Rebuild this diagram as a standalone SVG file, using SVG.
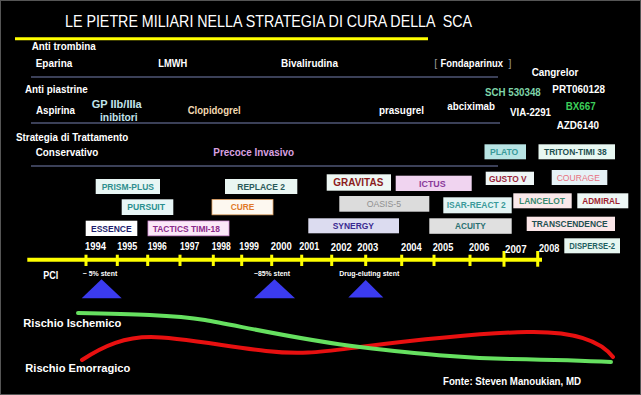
<svg xmlns="http://www.w3.org/2000/svg" width="641" height="395" viewBox="0 0 641 395">
<defs>
<style>
text{font-family:"Liberation Sans",Arial,sans-serif;font-weight:bold}
.t{fill:#fff;font-size:10.5px}
.b{font-size:9.5px}
.y{fill:#fff;font-size:11px}
.s{fill:#fff;font-size:6.5px}
.br{fill:#999;font-size:10.5px;font-weight:normal}
.sep{stroke:#3b4058;stroke-width:2}
.tick{stroke:#ffff00;stroke-width:3}
.tri{fill:#3b3bef}
</style>
</defs>
<rect x="0" y="0" width="641" height="395" fill="#000"/>
<rect x="0.5" y="0.5" width="640" height="394" fill="none" stroke="#555" stroke-width="1"/>

<g id="title">
<text x="65" y="27" fill="#fff" font-size="16.5" style="font-weight:normal" xml:space="preserve" textLength="407" lengthAdjust="spacingAndGlyphs">LE PIETRE MILIARI NELLA STRATEGIA DI CURA DELLA  SCA</text>
<line x1="15" y1="38.7" x2="428" y2="38.7" stroke="#ffff00" stroke-width="3"/>
</g>

<g id="separators">
<line class="sep" x1="31" y1="77" x2="498" y2="77"/>
<line class="sep" x1="31" y1="123" x2="500" y2="123"/>
<line class="sep" x1="31" y1="166" x2="498" y2="166"/>
</g>

<g id="antitrombina">
<text class="t" x="31.7" y="50" textLength="64" lengthAdjust="spacingAndGlyphs">Anti trombina</text>
<text class="t" x="35.7" y="67.3" textLength="36.6" lengthAdjust="spacingAndGlyphs">Eparina</text>
<text class="t" x="158.3" y="67.3" textLength="29" lengthAdjust="spacingAndGlyphs">LMWH</text>
<text class="t" x="281" y="67.3" textLength="57" lengthAdjust="spacingAndGlyphs">Bivalirudina</text>
<text class="br" x="434.3" y="67.3">[</text>
<text class="t" x="440.5" y="67.3" textLength="62.5" lengthAdjust="spacingAndGlyphs">Fondaparinux</text>
<text class="br" x="508.5" y="67.3">]</text>
</g>

<g id="antipiastrine">
<text class="t" x="25" y="93.3" textLength="62.7" lengthAdjust="spacingAndGlyphs">Anti piastrine</text>
<text class="t" x="36" y="114" textLength="39" lengthAdjust="spacingAndGlyphs">Aspirina</text>
<text class="t" x="91.7" y="108.3" style="fill:#c2e4ec" textLength="50" lengthAdjust="spacingAndGlyphs">GP IIb/IIIa</text>
<text class="t" x="100" y="121" style="fill:#c2e4ec" textLength="37.7" lengthAdjust="spacingAndGlyphs">inibitori</text>
<text class="t" x="187.7" y="114" style="fill:#f3d9b1" textLength="53" lengthAdjust="spacingAndGlyphs">Clopidogrel</text>
<text class="t" x="379" y="113.5" textLength="45" lengthAdjust="spacingAndGlyphs">prasugrel</text>
<text class="t" x="447.3" y="110" textLength="47.7" lengthAdjust="spacingAndGlyphs">abciximab</text>
<text class="t" x="485" y="96" style="fill:#7fd4a8" textLength="55.7" lengthAdjust="spacingAndGlyphs">SCH 530348</text>
<text class="t" x="531.7" y="76" textLength="46.6" lengthAdjust="spacingAndGlyphs">Cangrelor</text>
<text class="t" x="552.3" y="93.3" textLength="52.7" lengthAdjust="spacingAndGlyphs">PRT060128</text>
<text class="t" x="565.7" y="110" style="fill:#3ccf5a" textLength="30" lengthAdjust="spacingAndGlyphs">BX667</text>
<text class="t" x="510" y="116" textLength="41" lengthAdjust="spacingAndGlyphs">VIA-2291</text>
<text class="t" x="556.7" y="129" textLength="42.3" lengthAdjust="spacingAndGlyphs">AZD6140</text>
</g>

<g id="strategia">
<text class="t" x="16" y="141" textLength="112.3" lengthAdjust="spacingAndGlyphs">Strategia di Trattamento</text>
<text class="t" x="35.7" y="156" textLength="62.6" lengthAdjust="spacingAndGlyphs">Conservativo</text>
<text class="t" x="213.3" y="156" style="fill:#d9a0e0" textLength="80.7" lengthAdjust="spacingAndGlyphs">Precoce Invasivo</text>
</g>

<g id="trials">
<g id="plato"><rect x="484.5" y="144.3" width="41.5" height="15" fill="#b8e4e4"/><text class="b" x="490" y="155" fill="#3a9a9a" textLength="28.3" lengthAdjust="spacingAndGlyphs">PLATO</text></g>
<g id="triton"><rect x="538.5" y="144.3" width="76.5" height="15" fill="#e8f8f2"/><text class="b" x="544" y="155" fill="#1f5050" textLength="62.7" lengthAdjust="spacingAndGlyphs">TRITON-TIMI 38</text></g>
<g id="prism"><rect x="95.7" y="179" width="64.3" height="15" fill="#e8f6f4"/><text class="b" x="101.7" y="189.5" fill="#2f8f8f" textLength="52.3" lengthAdjust="spacingAndGlyphs">PRISM-PLUS</text></g>
<g id="replace"><rect x="225" y="179" width="72.3" height="15" fill="#eaf6f2"/><text class="b" x="237.3" y="189.5" fill="#2a5a5a" textLength="47.7" lengthAdjust="spacingAndGlyphs">REPLACE 2</text></g>
<g id="pursuit"><rect x="121.7" y="199.3" width="51.6" height="15.7" fill="#e8f6f6"/><text class="b" x="127.3" y="210" fill="#2a9090" textLength="37.7" lengthAdjust="spacingAndGlyphs">PURSUIT</text></g>
<g id="cure"><rect x="212" y="199.6" width="61" height="15.2" fill="#fdf8f0" stroke="#e8a868" stroke-width="0.8"/><text class="b" x="230.7" y="210" fill="#e07a2a" textLength="23.6" lengthAdjust="spacingAndGlyphs">CURE</text></g>
<g id="essence"><rect x="85.7" y="220.7" width="51.6" height="15.3" fill="#ffffff"/><text class="b" x="91" y="231.7" fill="#1e1e6e" textLength="40.7" lengthAdjust="spacingAndGlyphs">ESSENCE</text></g>
<g id="tactics"><rect x="148" y="221" width="81" height="14.8" fill="#fbe8f8" stroke="#d890d8" stroke-width="0.8"/><text class="b" x="152.7" y="231.7" fill="#8b2a8b" textLength="67.3" lengthAdjust="spacingAndGlyphs">TACTICS TIMI-18</text></g>
<g id="gravitas"><rect x="326.7" y="174.3" width="64.3" height="16.4" fill="#eef8f4"/><text x="333.3" y="186" font-size="11" fill="#8b1c1c" textLength="50" lengthAdjust="spacingAndGlyphs">GRAVITAS</text></g>
<g id="ictus"><rect x="395.7" y="175.7" width="76" height="15.3" fill="#f0d4f0"/><text class="b" x="419" y="186.7" fill="#8a3a9a" textLength="26.7" lengthAdjust="spacingAndGlyphs">ICTUS</text></g>
<g id="oasis"><rect x="339.3" y="196" width="90" height="15.7" fill="#dcdcdc"/><text class="b" x="366.7" y="207.3" fill="#909090" style="font-weight:normal" textLength="34.3" lengthAdjust="spacingAndGlyphs">OASIS-5</text></g>
<g id="isar"><rect x="443.3" y="197.3" width="68.4" height="16" fill="#e4f4f4"/><text class="b" x="446.7" y="207.7" fill="#3a9a9a" textLength="59" lengthAdjust="spacingAndGlyphs">ISAR-REACT 2</text></g>
<g id="synergy"><rect x="308.3" y="218.3" width="90.7" height="15" fill="#dcdcf0"/><text class="b" x="332.7" y="229" fill="#3a2a90" textLength="41.3" lengthAdjust="spacingAndGlyphs">SYNERGY</text></g>
<g id="acuity"><rect x="429.3" y="218.3" width="82.4" height="15.5" fill="#e0e0e0"/><text class="b" x="455" y="228.8" fill="#2a7070" textLength="30.7" lengthAdjust="spacingAndGlyphs">ACUITY</text></g>
<g id="gusto"><rect x="485.7" y="171.7" width="48.3" height="13.3" fill="#eef6f6"/><text class="b" x="489" y="181.7" fill="#9a1f3a" textLength="37.7" lengthAdjust="spacingAndGlyphs">GUSTO V</text></g>
<g id="courage"><rect x="551.7" y="170" width="55.6" height="15" fill="#e6f2f6"/><text class="b" x="556.7" y="180.5" fill="#e87080" style="font-weight:normal" textLength="43.3" lengthAdjust="spacingAndGlyphs">COURAGE</text></g>
<g id="lancelot"><rect x="513.3" y="193.3" width="58.4" height="15" fill="#fae8ea"/><text class="b" x="519" y="204" fill="#3a8a70" textLength="46" lengthAdjust="spacingAndGlyphs">LANCELOT</text></g>
<g id="admiral"><rect x="577.3" y="193.3" width="51" height="15" fill="#eef8f6"/><text class="b" x="582.3" y="204" fill="#a01f30" textLength="37.7" lengthAdjust="spacingAndGlyphs">ADMIRAL</text></g>
<g id="transcendence"><rect x="526.7" y="216.7" width="88.3" height="14.3" fill="#fbe6e8"/><text class="b" x="531.7" y="226.7" fill="#1f5050" textLength="76" lengthAdjust="spacingAndGlyphs">TRANSCENDENCE</text></g>
<g id="disperse"><rect x="564.3" y="238.3" width="55.7" height="15" fill="#e6f6f0"/><text class="b" x="569.3" y="248.5" fill="#1f6060" textLength="45.7" lengthAdjust="spacingAndGlyphs">DISPERSE-2</text></g>
</g>

<g id="timeline">
<line x1="27.3" y1="259.7" x2="542" y2="259.7" stroke="#ffff00" stroke-width="4"/>
<line class="tick" x1="86" y1="254.7" x2="86" y2="266"/>
<line class="tick" x1="117.3" y1="254.7" x2="117.3" y2="266"/>
<line class="tick" x1="147.7" y1="254.7" x2="147.7" y2="266"/>
<line class="tick" x1="180" y1="254.7" x2="180" y2="266"/>
<line class="tick" x1="213.3" y1="254.7" x2="213.3" y2="266"/>
<line class="tick" x1="241.7" y1="254.7" x2="241.7" y2="266"/>
<line class="tick" x1="271.7" y1="254.7" x2="271.7" y2="266"/>
<line class="tick" x1="301.7" y1="254.7" x2="301.7" y2="266"/>
<line class="tick" x1="331.7" y1="254.7" x2="331.7" y2="266"/>
<line class="tick" x1="365.7" y1="254.7" x2="365.7" y2="266"/>
<line class="tick" x1="401.7" y1="254.7" x2="401.7" y2="266"/>
<line class="tick" x1="434" y1="254.7" x2="434" y2="266"/>
<line class="tick" x1="470" y1="254.7" x2="470" y2="266"/>
<line class="tick" x1="504" y1="251" x2="504" y2="266.7"/>
<line class="tick" x1="537.7" y1="251" x2="537.7" y2="266.7"/>
<text class="y" x="85" y="250" textLength="21" lengthAdjust="spacingAndGlyphs">1994</text>
<text class="y" x="117.3" y="250" textLength="20" lengthAdjust="spacingAndGlyphs">1995</text>
<text class="y" x="147.7" y="250" textLength="19" lengthAdjust="spacingAndGlyphs">1996</text>
<text class="y" x="180" y="250" textLength="19.3" lengthAdjust="spacingAndGlyphs">1997</text>
<text class="y" x="211.7" y="250" textLength="19" lengthAdjust="spacingAndGlyphs">1998</text>
<text class="y" x="239.3" y="250" textLength="19.7" lengthAdjust="spacingAndGlyphs">1999</text>
<text class="y" x="270.7" y="250" textLength="21" lengthAdjust="spacingAndGlyphs">2000</text>
<text class="y" x="299.3" y="250" textLength="20" lengthAdjust="spacingAndGlyphs">2001</text>
<text class="y" x="330.7" y="250.5" textLength="21" lengthAdjust="spacingAndGlyphs">2002</text>
<text class="y" x="357.3" y="250.5" textLength="21" lengthAdjust="spacingAndGlyphs">2003</text>
<text class="y" x="401" y="250.5" textLength="20.7" lengthAdjust="spacingAndGlyphs">2004</text>
<text class="y" x="432.7" y="250.5" textLength="20.6" lengthAdjust="spacingAndGlyphs">2005</text>
<text class="y" x="469" y="250.5" textLength="20.3" lengthAdjust="spacingAndGlyphs">2006</text>
<text class="y" x="505" y="252.7" textLength="21.7" lengthAdjust="spacingAndGlyphs">2007</text>
<text class="y" x="539" y="252.3" textLength="20.3" lengthAdjust="spacingAndGlyphs">2008</text>
</g>

<g id="pci">
<text class="t" x="43.3" y="279" font-size="11" textLength="15" lengthAdjust="spacingAndGlyphs">PCI</text>
<text class="s" x="82.7" y="275.7" textLength="34.6" lengthAdjust="spacingAndGlyphs">~ 5% stent</text>
<text class="s" x="254" y="275.7" textLength="36" lengthAdjust="spacingAndGlyphs">~85% stent</text>
<text class="s" x="339.3" y="276" textLength="60" lengthAdjust="spacingAndGlyphs">Drug-eluting stent</text>
<polygon class="tri" points="101.5,279.3 121.7,298.3 81.7,298.3"/>
<polygon class="tri" points="274.5,279.3 295,298.3 254,298.3"/>
<polygon class="tri" points="365.7,280 383.3,297.5 348.3,297.5"/>
</g>

<g id="connectors">
<path d="M82,360 C105,345 125,337 151,337 S230,347 266,351 S320,352 360,347 S480,333 527,332 S600,340 613,357" fill="none" stroke="#e81010" stroke-width="4" stroke-linecap="round"/>
<path d="M78,313 C130,314 175,315 205,320 S300,340 360,347 S460,358 511,359 S590,361 611,362" fill="none" stroke="#66e060" stroke-width="4" stroke-linecap="round"/>
</g>

<g id="legend">
<text fill="#fff" x="23.3" y="326.5" font-size="11.5" textLength="98" lengthAdjust="spacingAndGlyphs">Rischio Ischemico</text>
<text fill="#fff" x="25.3" y="372" font-size="11.5" textLength="105" lengthAdjust="spacingAndGlyphs">Rischio Emorragico</text>
<text fill="#fff" x="443" y="385" font-size="10.5" textLength="138" lengthAdjust="spacingAndGlyphs">Fonte: Steven Manoukian, MD</text>
</g>
</svg>
